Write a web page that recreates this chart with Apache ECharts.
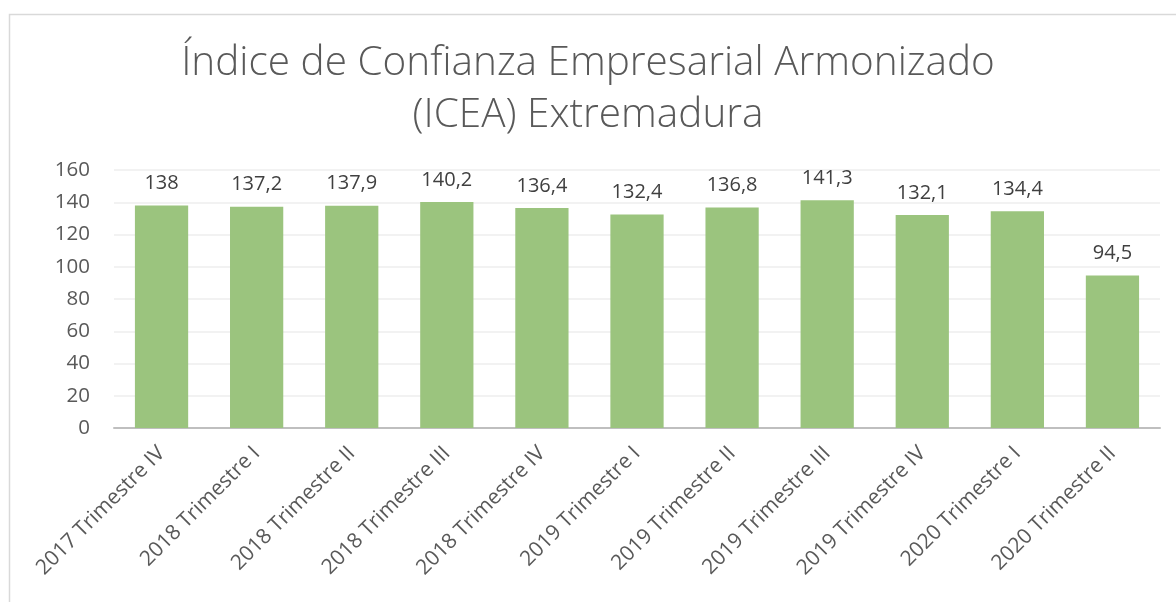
<!DOCTYPE html>
<html>
<head>
<meta charset="utf-8">
<script src="https://cdn.jsdelivr.net/npm/echarts@6/dist/echarts.min.js"></script>
<style>html,body{margin:0;padding:0;background:#fff}#c{width:1176px;height:602px}</style>
</head>
<body>
<div id="c"></div>
<script>
const categories = ["2017 Trimestre IV","2018 Trimestre I","2018 Trimestre II","2018 Trimestre III","2018 Trimestre IV","2019 Trimestre I","2019 Trimestre II","2019 Trimestre III","2019 Trimestre IV","2020 Trimestre I","2020 Trimestre II"];
const values = [138, 137.2, 137.9, 140.2, 136.4, 132.4, 136.8, 141.3, 132.1, 134.4, 94.5];
const titleLines = ["Índice de Confianza Empresarial Armonizado", "(ICEA) Extremadura"];
const yTicks = {min: 0, max: 160, interval: 20};

const chart = echarts.init(document.getElementById('c'), null, {renderer: 'canvas'});
const font = '"Open Sans", "Liberation Sans", sans-serif';
chart.setOption({
  backgroundColor: '#ffffff',
  animation: false,
  title: {
    text: titleLines.join('\n'),
    left: 'center',
    top: 32,
    textStyle: {fontFamily: font, fontWeight: 300, fontSize: 40.5, color: '#595959', lineHeight: 52}
  },
  graphic: [{
    type: 'rect', left: 7, top: 12, silent: true,
    shape: {width: 1200, height: 700},
    style: {fill: 'none', stroke: '#d9d9d9', lineWidth: 1.5}
  }],
  grid: {left: 114, right: 16, top: 170, bottom: 174},
  xAxis: {
    type: 'category',
    data: categories,
    axisLine: {lineStyle: {color: '#bfbfbf', width: 2}},
    axisTick: {show: false},
    axisLabel: {rotate: 45, margin: 22, fontFamily: font, fontSize: 21, color: '#595959', interval: 0}
  },
  yAxis: {
    type: 'value',
    min: yTicks.min, max: yTicks.max, interval: yTicks.interval,
    axisLine: {show: false},
    axisTick: {show: false},
    splitLine: {lineStyle: {color: '#eeeeee', width: 1.5}},
    axisLabel: {fontFamily: font, fontSize: 20.5, color: '#595959', margin: 24}
  },
  series: [{
    type: 'bar',
    data: values,
    barCategoryGap: '44%',
    itemStyle: {color: '#9bc47e'},
    label: {
      show: true, position: 'top', distance: 12,
      fontFamily: font, fontSize: 20, color: '#404040',
      formatter: p => String(p.value).replace('.', ',')
    }
  }]
});
</script>
</body>
</html>
